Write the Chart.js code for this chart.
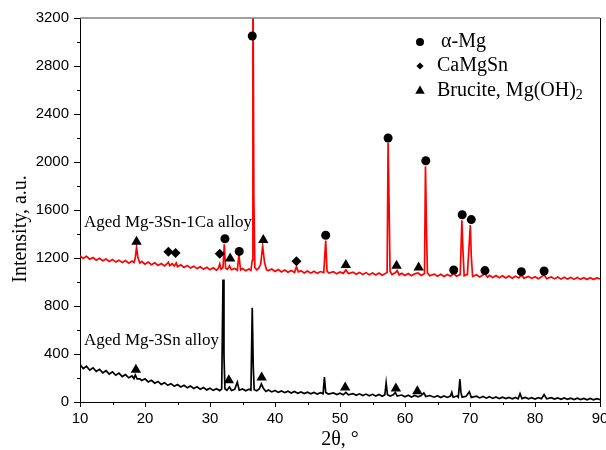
<!DOCTYPE html>
<html>
<head>
<meta charset="utf-8">
<script src="https://cdn.jsdelivr.net/npm/chart.js@4.4.1/dist/chart.umd.min.js"></script>
<style>
  html, body { margin: 0; padding: 0; background: #fff; }
  #wrap { width: 606px; height: 450px; }
</style>
</head>
<body>
<div id="wrap"><canvas id="xrd" width="606" height="450"></canvas></div>
<script>
// XRD patterns, [2θ, intensity]
const redPattern = [
  [10.0,1218],[10.5,1196],[11.0,1214],[11.5,1190],[12.0,1204],[12.5,1182],[13.0,1198],[13.5,1178],
  [14.0,1192],[14.5,1172],[15.0,1188],[15.5,1166],[16.0,1182],[16.5,1162],[17.0,1178],[17.5,1156],
  [18.0,1174],[18.3,1162],[18.5,1200],[18.7,1290],[18.9,1205],[19.2,1158],[19.5,1172],[20.0,1148],
  [20.5,1166],[21.0,1144],[21.5,1160],[22.0,1138],[22.5,1154],[23.0,1134],[23.4,1152],[23.6,1165],
  [23.8,1136],[24.2,1152],[24.5,1132],[24.8,1158],[25.0,1128],[25.5,1144],[26.0,1122],[26.5,1138],
  [27.0,1116],[27.5,1132],[28.0,1112],[28.5,1127],[29.0,1106],[29.5,1122],[30.0,1102],[30.5,1118],
  [31.0,1098],[31.3,1114],[31.5,1150],[31.7,1106],[32.0,1120],[32.2,1315],[32.4,1115],[32.7,1106],
  [33.0,1135],[33.3,1102],[33.8,1112],[34.2,1098],[34.45,1228],[34.7,1100],[35.0,1112],[35.5,1094],
  [36.0,1108],[36.3,1098],[36.5,1180],[36.6,3700],[36.75,1700],[36.9,1120],[37.2,1102],[37.5,1114],
  [37.8,1150],[38.1,1300],[38.4,1160],[38.7,1102],[39.0,1096],[39.5,1108],[40.0,1088],[40.5,1104],
  [41.0,1084],[41.5,1100],[42.0,1081],[42.5,1096],[43.0,1080],[43.3,1125],[43.6,1084],[44.0,1094],
  [44.5,1076],[45.0,1092],[45.5,1074],[46.0,1090],[46.5,1072],[47.0,1087],[47.5,1078],[47.8,1345],
  [48.0,1090],[48.3,1074],[49.0,1086],[49.5,1068],[50.0,1084],[50.5,1072],[50.9,1100],[51.3,1070],
  [52.0,1082],[52.5,1064],[53.0,1080],[53.5,1062],[54.0,1078],[54.5,1060],[55.0,1076],[55.5,1058],
  [56.0,1074],[56.5,1056],[57.0,1072],[57.25,1080],[57.4,2160],[57.55,1650],[57.7,1090],[58.0,1062],
  [58.5,1077],[58.8,1095],[59.1,1058],[59.5,1072],[60.0,1054],[60.5,1070],[61.0,1052],[61.5,1068],
  [62.0,1075],[62.5,1054],[63.0,1070],[63.15,1965],[63.3,1460],[63.45,1075],[63.8,1052],[64.5,1066],
  [65.0,1048],[65.5,1064],[66.0,1046],[66.5,1062],[67.0,1048],[67.5,1072],[67.9,1048],[68.5,1062],
  [68.75,1515],[68.9,1280],[69.1,1052],[69.6,1064],[70.05,1475],[70.2,1215],[70.4,1046],[71.0,1060],
  [71.5,1042],[72.0,1058],[72.3,1068],[72.7,1040],[73.0,1056],[73.5,1038],[74.0,1054],[74.5,1036],
  [75.0,1052],[75.5,1034],[76.0,1050],[76.5,1032],[77.0,1048],[77.5,1034],[77.9,1058],[78.3,1032],
  [79.0,1046],[79.5,1030],[80.0,1044],[80.5,1028],[81.0,1044],[81.4,1060],[81.8,1028],[82.5,1042],
  [83.0,1026],[83.5,1042],[84.0,1024],[84.5,1040],[85.0,1024],[85.5,1038],[86.0,1022],[86.5,1038],
  [87.0,1022],[87.5,1036],[88.0,1020],[88.5,1036],[89.0,1020],[89.5,1034],[90.0,1026]
];

const blackPattern = [
  [10.0,312],[10.5,278],[11.0,298],[11.5,265],[12.0,285],[12.5,255],[13.0,273],[13.5,243],
  [14.0,261],[14.5,233],[15.0,251],[15.5,223],[16.0,241],[16.5,212],[17.0,228],[17.5,202],
  [18.0,217],[18.3,195],[18.5,225],[18.8,193],[19.2,192],[19.5,179],[20.0,193],[20.5,167],
  [21.0,181],[21.5,157],[22.0,171],[22.5,147],[23.0,161],[23.5,139],[24.0,153],[24.5,132],
  [25.0,145],[25.5,125],[26.0,139],[26.5,119],[27.0,133],[27.5,113],[28.0,127],[28.5,107],
  [29.0,121],[29.5,101],[30.0,115],[30.5,97],[31.0,111],[31.5,95],[31.8,110],[32.0,1020],
  [32.15,380],[32.3,110],[32.6,98],[33.0,125],[33.3,96],[33.8,106],[34.2,165],[34.5,98],
  [35.0,108],[35.5,94],[36.0,106],[36.3,98],[36.5,785],[36.65,300],[36.8,102],[37.2,94],
  [37.6,110],[37.9,150],[38.2,115],[38.6,88],[39.0,100],[39.5,84],[40.0,96],[40.5,80],
  [41.0,92],[41.5,78],[42.0,90],[42.5,75],[43.0,88],[43.5,73],[44.0,84],[44.5,70],
  [45.0,82],[45.5,68],[46.0,80],[46.5,66],[47.0,78],[47.4,68],[47.6,208],[47.8,80],
  [48.2,66],[49.0,76],[49.5,62],[50.0,74],[50.5,60],[50.9,80],[51.3,60],[52.0,70],
  [52.5,56],[53.0,68],[53.5,54],[54.0,66],[54.5,52],[55.0,64],[55.5,50],[56.0,62],
  [56.5,48],[56.9,60],[57.1,160],[57.3,60],[57.7,50],[58.2,60],[58.5,80],[58.8,50],
  [59.5,58],[60.0,44],[60.5,56],[61.0,42],[61.5,54],[62.0,43],[62.5,54],[62.9,75],
  [63.2,46],[63.8,54],[64.5,40],[65.0,52],[65.5,38],[66.0,50],[66.5,38],[67.0,50],
  [67.2,80],[67.4,40],[68.0,50],[68.2,40],[68.45,190],[68.6,80],[68.8,40],[69.4,48],
  [69.9,85],[70.2,38],[71.0,48],[71.5,34],[72.0,46],[72.5,32],[73.0,44],[73.5,30],
  [74.0,42],[74.5,28],[75.0,40],[75.5,28],[76.0,38],[76.5,26],[77.0,38],[77.4,26],
  [77.7,70],[78.0,28],[78.5,38],[79.0,26],[79.5,36],[80.0,24],[80.5,36],[81.0,28],
  [81.4,62],[81.8,26],[82.5,36],[83.0,24],[83.5,34],[84.0,22],[84.5,34],[85.0,22],
  [85.5,32],[86.0,20],[86.5,32],[87.0,20],[87.5,30],[88.0,18],[88.5,30],[89.0,18],
  [89.5,28],[90.0,20]
];

// phase markers placed above the peaks
const alphaMgPeaks = [
  [32.3,1360],[34.5,1255],[36.5,3050],[47.8,1390],[57.4,2200],[63.2,2010],
  [67.5,1100],[68.8,1560],[70.2,1520],[72.3,1095],[77.9,1086],[81.4,1092]
];
const caMgSnPeaks = [[23.6,1252],[24.7,1242],[31.5,1235],[43.3,1172]];
const brucitePeaks = [
  [18.7,1335],[33.1,1195],[38.2,1350],[50.9,1142],[58.7,1135],[62.1,1120],
  [18.6,268],[32.9,182],[37.95,204],[50.8,121],[58.6,112],[61.9,90]
];

const phaseNames = ['α-Mg', 'CaMgSn', 'Brucite, Mg(OH)'];
const seriesLabels = ['Aged Mg-3Sn-1Ca alloy', 'Aged Mg-3Sn alloy'];
const seriesLabelPos = [[10.6, 1458], [10.6, 472]];

const xTicks = [10, 20, 30, 40, 50, 60, 70, 80, 90];
const yTicks = [0, 400, 800, 1200, 1600, 2000, 2400, 2800, 3200];

const toXY = arr => arr.map(p => ({ x: p[0], y: p[1] }));

const decorPlugin = {
  id: 'decor',
  afterDraw(chart) {
    const { ctx, chartArea: a, scales } = chart;
    const xs = scales.x, ys = scales.y;
    ctx.save();

    // top (grey) and right frame lines
    ctx.strokeStyle = '#808080';
    ctx.lineWidth = 1.6;
    ctx.beginPath();
    ctx.moveTo(a.left, a.top);
    ctx.lineTo(a.right, a.top);
    ctx.stroke();
    ctx.strokeStyle = '#000';
    ctx.lineWidth = 1;
    ctx.beginPath();
    ctx.moveTo(a.right + 0.5, a.top);
    ctx.lineTo(a.right + 0.5, a.bottom);
    ctx.stroke();

    // outward ticks, major and minor
    ctx.beginPath();
    for (let v = 0; v <= 3200; v += 200) {
      const py = Math.round(ys.getPixelForValue(v)) + 0.5;
      const len = v % 400 === 0 ? 6 : 3;
      ctx.moveTo(a.left - len, py);
      ctx.lineTo(a.left, py);
    }
    for (let v = 10; v <= 90; v += 5) {
      const px = Math.round(xs.getPixelForValue(v)) + 0.5;
      const len = v % 10 === 0 ? 5 : 3;
      ctx.moveTo(px, a.bottom);
      ctx.lineTo(px, a.bottom + len);
    }
    ctx.stroke();

    // y axis title (sits a bit below centre in the original)
    ctx.fillStyle = '#000';
    ctx.font = '20px "Liberation Serif"';
    ctx.textAlign = 'center';
    ctx.textBaseline = 'middle';
    ctx.translate(21, (a.top + a.bottom) / 2 + 19);
    ctx.rotate(-Math.PI / 2);
    ctx.fillText('Intensity, a.u.', 0, 0);
    ctx.setTransform(1, 0, 0, 1, 0, 0);

    // sample labels
    ctx.font = '17px "Liberation Serif"';
    ctx.textAlign = 'left';
    ctx.textBaseline = 'alphabetic';
    seriesLabels.forEach((txt, i) => {
      const [tx, ty] = seriesLabelPos[i];
      ctx.fillText(txt, xs.getPixelForValue(tx), ys.getPixelForValue(ty));
    });

    // legend
    const markerSets = chart.data.datasets.filter(d => d.isPhase);
    const lx = a.right - 180;
    const rowY = [a.top + 24, a.top + 48, a.top + 73];
    const radii = [4, 3.6, 5.5];
    markerSets.forEach((ds, i) => {
      ctx.fillStyle = '#000';
      Chart.helpers.drawPoint(ctx, { pointStyle: ds.pointStyle, radius: radii[i], rotation: 0, borderWidth: 0 }, lx, rowY[i]);
      ctx.font = '20px "Liberation Serif"';
      ctx.textBaseline = 'middle';
      const tx = i === 0 ? lx + 21 : lx + 17;
      ctx.fillText(ds.label, tx, rowY[i]);
      if (i === 2) {
        const w = ctx.measureText(ds.label).width;
        ctx.font = '14px "Liberation Serif"';
        ctx.fillText('2', tx + w, rowY[i] + 4);
      }
    });

    ctx.restore();
  }
};

const markerDataset = (label, data, style, radius) => ({
  type: 'scatter',
  label: label,
  isPhase: true,
  data: toXY(data),
  pointStyle: style,
  pointRadius: radius,
  pointHoverRadius: radius,
  pointBackgroundColor: '#000',
  pointBorderColor: '#000',
  pointBorderWidth: 0,
  showLine: false,
  order: 0
});

new Chart(document.getElementById('xrd'), {
  type: 'line',
  data: {
    datasets: [
      markerDataset(phaseNames[0], alphaMgPeaks, 'circle', 4.5),
      markerDataset(phaseNames[1], caMgSnPeaks, 'rectRot', 5),
      markerDataset(phaseNames[2], brucitePeaks, 'triangle', 6),
      {
        label: seriesLabels[0],
        data: toXY(redPattern),
        borderColor: '#ff0000',
        borderWidth: 1.7,
        pointRadius: 0,
        tension: 0,
        order: 1
      },
      {
        label: seriesLabels[1],
        data: toXY(blackPattern),
        borderColor: '#000000',
        borderWidth: 1.7,
        pointRadius: 0,
        tension: 0,
        order: 2
      }
    ]
  },
  options: {
    responsive: false,
    animation: false,
    layout: { padding: { top: 18, right: 6, left: 0, bottom: 0 } },
    plugins: {
      legend: { display: false },
      tooltip: { enabled: false }
    },
    scales: {
      x: {
        type: 'linear',
        min: 10,
        max: 90,
        afterBuildTicks: scale => { scale.ticks = xTicks.map(v => ({ value: v })); },
        afterFit: scale => {
          scale.height = 48;
          scale.paddingLeft = 0;
          scale.paddingRight = 0;
        },
        grid: { display: false, drawTicks: false },
        border: { display: true, color: '#000', width: 1 },
        ticks: {
          color: '#000',
          padding: 8,
          maxRotation: 0,
          callback: v => String(v),
          font: { family: 'Liberation Sans', size: 15 }
        },
        title: {
          display: true,
          text: '2θ, °',
          color: '#000',
          padding: 0,
          font: { family: 'Liberation Serif', size: 20, lineHeight: 1 }
        }
      },
      y: {
        min: 0,
        max: 3200,
        afterBuildTicks: scale => { scale.ticks = yTicks.map(v => ({ value: v })); },
        afterFit: scale => {
          scale.width = 80;
          scale.paddingTop = 0;
          scale.paddingBottom = 0;
        },
        grid: { display: false, drawTicks: false },
        border: { display: true, color: '#000', width: 1 },
        ticks: {
          color: '#000',
          padding: 11,
          callback: v => String(v),
          font: { family: 'Liberation Sans', size: 15 }
        }
      }
    }
  },
  plugins: [decorPlugin]
});
</script>
</body>
</html>
